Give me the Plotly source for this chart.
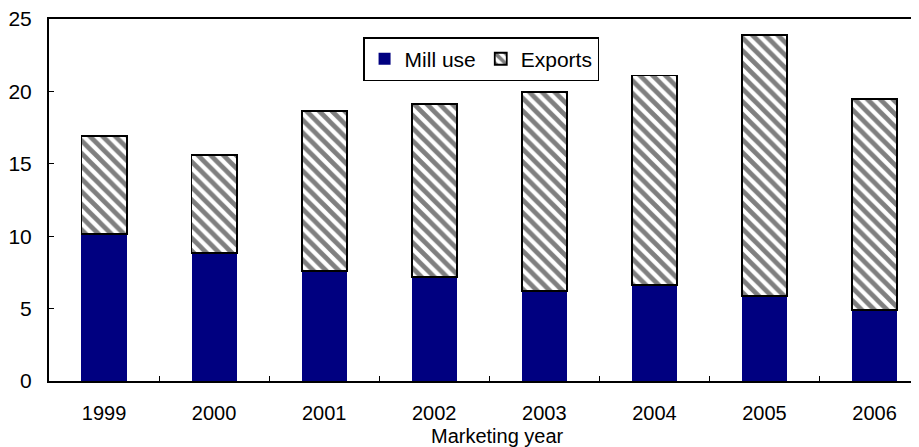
import plotly.graph_objects as go

years = ["1999", "2000", "2001", "2002", "2003", "2004", "2005", "2006"]
mill_use = [10.15, 8.82, 7.62, 7.20, 6.22, 6.63, 5.87, 4.90]
exports = [6.77, 6.77, 11.05, 11.93, 13.76, 14.47, 18.03, 14.57]
y_ticks = [0, 5, 10, 15, 20, 25]

FONT = "Liberation Sans, Arial, sans-serif"
FS = 21

# page has an 8px body margin; figure is sized so the plot lands where the reference has it
fig = go.Figure()
fig.add_trace(go.Bar(
    x=years, y=mill_use, name="Mill use",
    marker=dict(color="#000080", line=dict(width=0)),
    width=0.41,
))
fig.add_trace(go.Bar(
    x=years, y=exports, name="Exports",
    marker=dict(
        color="white",
        line=dict(color="black", width=1.8),
        pattern=dict(shape="\\", fgcolor="black", bgcolor="white",
                     size=9, solidity=0.52, fillmode="overlay"),
    ),
    width=0.41,
))

fig.update_layout(
    width=911, height=439,
    barmode="stack",
    margin=dict(l=41, r=0, t=11, b=66, autoexpand=False),
    paper_bgcolor="white", plot_bgcolor="white",
    font=dict(family=FONT, size=FS, color="black"),
    showlegend=True,
    legend=dict(
        orientation="h",
        traceorder="normal",
        x=0.361, y=0.95, xanchor="left", yanchor="top",
        bordercolor="black", borderwidth=1.5,
        bgcolor="white",
        font=dict(family=FONT, size=FS, color="black"),
        itemclick=False,
    ),
    xaxis=dict(
        type="category",
        range=[-0.5, 7.404],
        automargin=False,
        showline=True, linecolor="black", linewidth=2, mirror=True,
        ticks="inside", tickson="boundaries", ticklen=5, tickcolor="black", tickwidth=1,
        showgrid=False, zeroline=False,
        ticklabelstandoff=13,
        tickfont=dict(family=FONT, size=20, color="black"),
    ),
    yaxis=dict(
        range=[0, 25],
        tickvals=y_ticks,
        automargin=False,
        ticklabeloverflow="allow",
        showline=True, linecolor="black", linewidth=2,
        ticks="inside", ticklen=5, tickcolor="black", tickwidth=1,
        showgrid=False, zeroline=False,
        ticklabelstandoff=11,
        tickfont=dict(family=FONT, size=FS, color="black"),
    ),
    annotations=[dict(
        text="Marketing year", showarrow=False,
        xref="paper", yref="paper",
        x=(497 - 49) / 870, y=(381 - 436) / 362,
        xanchor="center", yanchor="middle",
        font=dict(family=FONT, size=20, color="black"),
    )],
)

fig.write_html("out.html")
